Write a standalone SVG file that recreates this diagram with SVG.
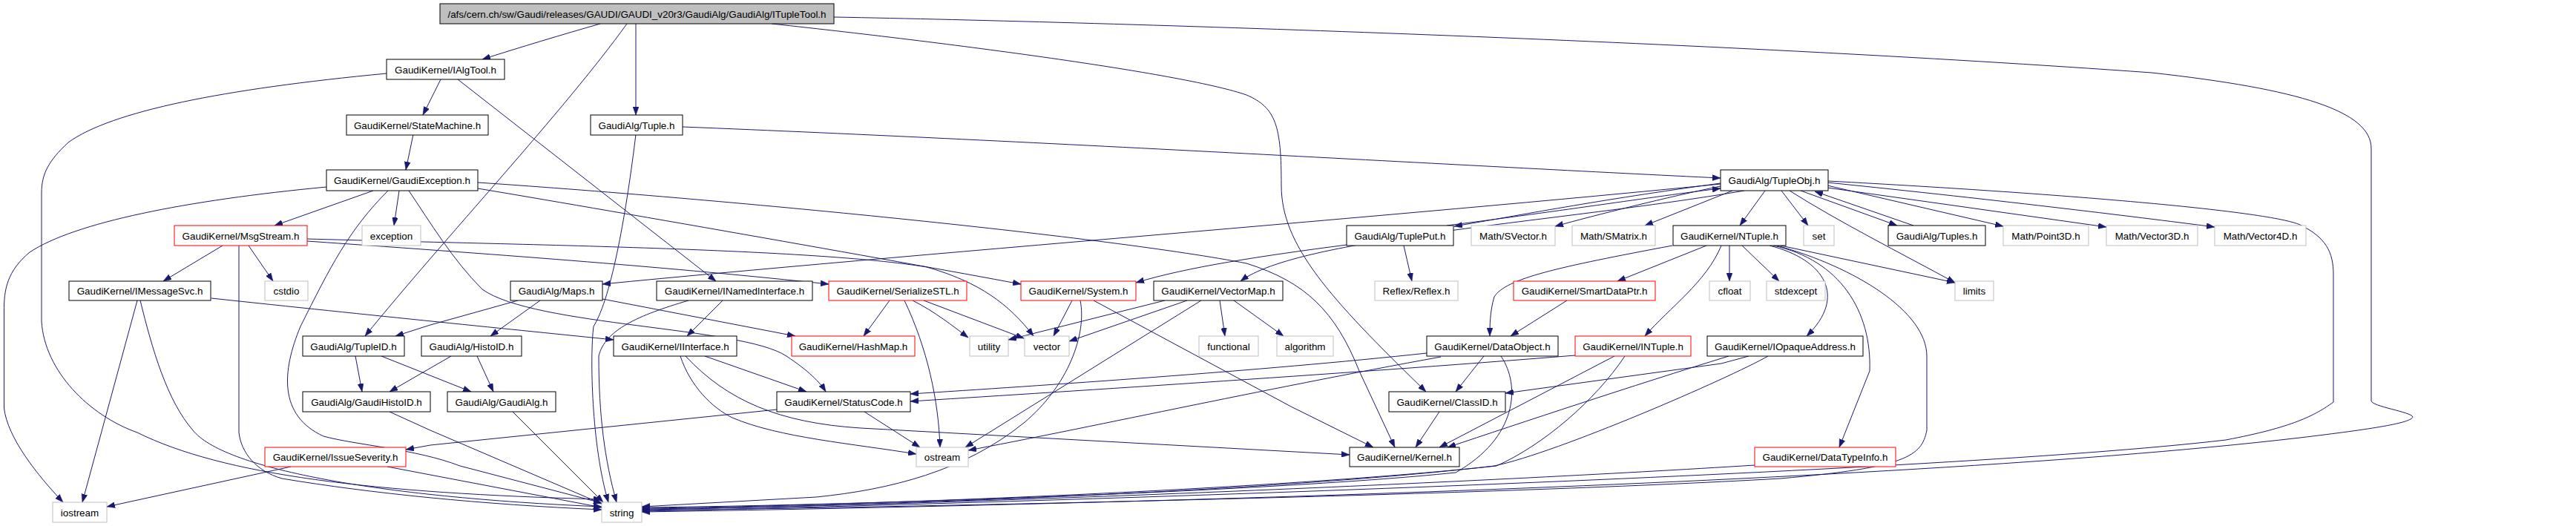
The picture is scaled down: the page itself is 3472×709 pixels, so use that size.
<svg xmlns="http://www.w3.org/2000/svg" width="3472" height="709" viewBox="0 0 3472 709">
<defs>
<marker id="a" markerUnits="userSpaceOnUse" markerWidth="11" markerHeight="8" refX="11" refY="4" orient="auto">
<path d="M0,0 L11,4 L0,8 z" fill="#191970" stroke="#191970" stroke-width="0.5"/>
</marker>
</defs>
<style>
rect{fill:#fff;stroke:#000;stroke-width:1}
.r rect{stroke:#f00}
.g rect{stroke:#bfbfbf}
.root rect{fill:#bfbfbf}
text{font-family:"Liberation Sans",Arial,sans-serif;font-size:13.4px;fill:#000;text-anchor:middle}
#edges path{fill:none;stroke:#191970;stroke-width:1;marker-end:url(#a)}
</style>
<rect x="0" y="0" width="3472" height="709" style="fill:#fff;stroke:none"/>
<g id="edges">
<path d="M809,32 C760,46 700,64 650,80"/>
<path d="M845,32 C760,150 600,320 492,453"/>
<path d="M857,32 L857,155"/>
<path d="M1040,32 C1300,60 1600,100 1680,128 C1720,145 1727,170 1727,250 C1727,330 1790,400 1922,528"/>
<path d="M1124,23 C1500,30 2300,55 2900,98 C3100,120 3196,150 3196,200 L3196,540 C3196,548 3250,555 3252,562 C3250,570 3200,578 3100,590 C2500,660 1200,685 865,690"/>
<path d="M2464,244 C2800,262 3060,285 3100,303 C3135,320 3145,340 3145,370 L3145,542 C3120,560 3090,576 3000,593 C2600,640 1300,680 865,689"/>
<path d="M2395,331 C2500,360 2597,420 2597,480 L2597,580 C2590,615 2570,630 2400,645 C2000,668 1200,684 865,688"/>
<path d="M2365,627 C2000,650 1300,680 865,687"/>
<path d="M2383,480 C2330,510 2100,610 2014,628 C1700,665 1100,684 865,686"/>
<path d="M2190,480 C2150,540 2080,600 2017,628 C1700,662 1100,683 865,685"/>
<path d="M2023,480 C2050,520 2045,590 1962,637 C1700,664 1100,682 865,684"/>
<path d="M1456,405 C1465,450 1440,520 1380,570 C1300,635 1200,660 1100,670 L865,683"/>
<path d="M521,99 C300,120 150,150 92,192 C65,217 56,235 56,260 L56,433 C60,500 120,560 185,583 C300,640 500,665 811,673"/>
<path d="M523,257 C470,310 445,360 405,440 C380,500 375,560 436,588 C480,600 560,605 620,628 L811,678"/>
<path d="M525,555 L580,580 L811,679"/>
<path d="M691,555 L813,677"/>
<path d="M189,405 C205,470 225,540 260,580 C300,630 500,670 811,683"/>
<path d="M322,331 L322,583 C325,610 345,635 380,645 C500,665 650,680 811,687"/>
<path d="M522,629 L811,684"/>
<path d="M857,181 C845,280 825,400 800,440 C795,480 797,600 820,677"/>
<path d="M928,405 C860,425 815,445 807,480 C807,560 815,620 831,677"/>
<path d="M594,107 L570,155"/>
<path d="M617,107 L965,379"/>
<path d="M557,181 L547,229"/>
<path d="M440,252 C250,270 100,300 40,340 C10,365 5,390 5.5,420 L5.5,550 C10,590 50,640 85,677"/>
<path d="M503,257 L370,304"/>
<path d="M538,257 L531,304"/>
<path d="M551,257 C580,300 610,350 650,390 C720,440 1000,440 1060,480 C1090,500 1105,515 1113,528"/>
<path d="M644,254 C800,280 1200,350 1376,383"/>
<path d="M644,246 C1000,270 1500,320 1680,355 C1760,380 1800,420 1832,500 L1880,603"/>
<path d="M300,331 L220,379"/>
<path d="M335,331 L368,379"/>
<path d="M414,325 C700,345 900,360 1117,383"/>
<path d="M414,322 C700,330 1100,335 1249,360 C1320,380 1360,410 1393,453"/>
<path d="M185,405 L111,677"/>
<path d="M285,402 C500,425 700,445 827,458"/>
<path d="M920,171 C1400,190 2000,225 2319,240"/>
<path d="M2319,247 C2150,270 2050,290 1960,305"/>
<path d="M1950,304 C2100,285 2250,262 2319,254"/>
<path d="M2319,251 C2250,265 2150,290 2096,305"/>
<path d="M2335,257 L2217,304"/>
<path d="M2379,257 L2345,304"/>
<path d="M2401,257 L2437,304"/>
<path d="M2427,257 L2557,304"/>
<path d="M2579,304 L2446,258"/>
<path d="M2463,250 L2700,305"/>
<path d="M2463,253 L2839,306"/>
<path d="M2463,246 C2700,270 2900,295 2985,306"/>
<path d="M2412,257 C2480,300 2560,340 2635,381"/>
<path d="M2351,257 C2100,300 1750,320 1672,379"/>
<path d="M2319,248 C1900,290 1200,345 812,383"/>
<path d="M1815,330 C1700,345 1600,360 1531,381"/>
<path d="M1892,331 L1903,379"/>
<path d="M2254,331 C2100,360 2030,375 2014,400 C2008,420 2008,440 2008,453"/>
<path d="M2331,331 L2331,379"/>
<path d="M2348,331 L2398,379"/>
<path d="M2300,331 L2180,379"/>
<path d="M2320,331 C2300,380 2250,415 2217,453"/>
<path d="M2385,331 C2460,350 2490,400 2435,453"/>
<path d="M2390,331 C2480,350 2523,420 2520,500 L2479,603"/>
<path d="M2400,331 L2635,381"/>
<path d="M698,405 L580,438 L533,453"/>
<path d="M728,405 L661,453"/>
<path d="M812,403 L1072,453"/>
<path d="M2112,405 L2036,453"/>
<path d="M974,405 L926,453"/>
<path d="M950,480 L1087,528"/>
<path d="M924,480 C980,540 1050,570 1160,577 L1819,613"/>
<path d="M917,480 C930,520 960,550 987,563 C1050,590 1150,598 1235,612"/>
<path d="M608,480 L525,528"/>
<path d="M643,480 L665,528"/>
<path d="M479,480 L488,528"/>
<path d="M514,480 L635,528"/>
<path d="M1199,405 L1164,453"/>
<path d="M1230,405 C1260,420 1285,440 1305,455"/>
<path d="M1245,405 L1380,456"/>
<path d="M1219,405 C1250,470 1265,540 1267,603"/>
<path d="M1445,405 L1420,453"/>
<path d="M1474,405 L1740,548 L1851,603"/>
<path d="M1570,405 L1359,458"/>
<path d="M1600,405 L1441,460"/>
<path d="M1619,405 L1301,603"/>
<path d="M1644,405 L1651,453"/>
<path d="M1663,405 L1730,453"/>
<path d="M2000,480 L1962,528"/>
<path d="M1923,476 C1700,500 1400,520 1227,531"/>
<path d="M2123,479 C1800,505 1400,530 1227,541"/>
<path d="M1942,481 C1700,525 1450,580 1305,607"/>
<path d="M2176,480 L1940,603"/>
<path d="M2357,480 L2320,490 L2029,530"/>
<path d="M2330,480 C2200,520 2050,570 1951,603"/>
<path d="M1940,555 L1908,603"/>
<path d="M1165,555 L1240,603"/>
<path d="M1047,552 L580,600 L547,606"/>
<path d="M392,629 L144,683"/>
</g>
<g id="root" class="root"><rect x="593" y="5" width="531" height="27"/><text x="858.5" y="24">/afs/cern.ch/sw/Gaudi/releases/GAUDI/GAUDI_v20r3/GaudiAlg/GaudiAlg/ITupleTool.h</text></g>
<g id="IAlgTool"><rect x="521" y="80" width="159" height="27"/><text x="600.5" y="99">GaudiKernel/IAlgTool.h</text></g>
<g id="StateMachine"><rect x="467" y="155" width="191" height="27"/><text x="562.5" y="174">GaudiKernel/StateMachine.h</text></g>
<g id="Tuple"><rect x="796" y="155" width="124" height="27"/><text x="858" y="174">GaudiAlg/Tuple.h</text></g>
<g id="GaudiException"><rect x="440" y="229" width="204" height="28"/><text x="542" y="248">GaudiKernel/GaudiException.h</text></g>
<g id="TupleObj"><rect x="2319" y="229" width="145" height="28"/><text x="2391.5" y="248">GaudiAlg/TupleObj.h</text></g>
<g id="MsgStream" class="r"><rect x="235" y="304" width="179" height="27"/><text x="324.5" y="323">GaudiKernel/MsgStream.h</text></g>
<g id="exception" class="g"><rect x="488" y="304" width="79" height="27"/><text x="527.5" y="323">exception</text></g>
<g id="TuplePut"><rect x="1815" y="304" width="144" height="27"/><text x="1887" y="323">GaudiAlg/TuplePut.h</text></g>
<g id="SVector" class="g"><rect x="1983" y="304" width="113" height="27"/><text x="2039.5" y="323">Math/SVector.h</text></g>
<g id="SMatrix" class="g"><rect x="2119" y="304" width="112" height="27"/><text x="2175" y="323">Math/SMatrix.h</text></g>
<g id="NTuple"><rect x="2255" y="304" width="152" height="27"/><text x="2331" y="323">GaudiKernel/NTuple.h</text></g>
<g id="set" class="g"><rect x="2431" y="304" width="41" height="27"/><text x="2451.5" y="323">set</text></g>
<g id="Tuples"><rect x="2545" y="304" width="131" height="27"/><text x="2610.5" y="323">GaudiAlg/Tuples.h</text></g>
<g id="Point3D" class="g"><rect x="2700" y="304" width="115" height="27"/><text x="2757.5" y="323">Math/Point3D.h</text></g>
<g id="Vector3D" class="g"><rect x="2839" y="304" width="123" height="27"/><text x="2900.5" y="323">Math/Vector3D.h</text></g>
<g id="Vector4D" class="g"><rect x="2985" y="304" width="123" height="27"/><text x="3046.5" y="323">Math/Vector4D.h</text></g>
<g id="IMessageSvc"><rect x="93" y="379" width="191" height="26"/><text x="188.5" y="397">GaudiKernel/IMessageSvc.h</text></g>
<g id="cstdio" class="g"><rect x="357" y="379" width="58" height="26"/><text x="386" y="397">cstdio</text></g>
<g id="Maps"><rect x="688" y="379" width="124" height="26"/><text x="750" y="397">GaudiAlg/Maps.h</text></g>
<g id="INamedInterface"><rect x="885" y="379" width="210" height="26"/><text x="990" y="397">GaudiKernel/INamedInterface.h</text></g>
<g id="SerializeSTL" class="r"><rect x="1117" y="379" width="186" height="26"/><text x="1210" y="397">GaudiKernel/SerializeSTL.h</text></g>
<g id="System" class="r"><rect x="1376" y="379" width="155" height="26"/><text x="1453.5" y="397">GaudiKernel/System.h</text></g>
<g id="VectorMap"><rect x="1555" y="379" width="174" height="26"/><text x="1642" y="397">GaudiKernel/VectorMap.h</text></g>
<g id="Reflex" class="g"><rect x="1853" y="379" width="112" height="26"/><text x="1909" y="397">Reflex/Reflex.h</text></g>
<g id="SmartDataPtr" class="r"><rect x="2040" y="379" width="191" height="26"/><text x="2135.5" y="397">GaudiKernel/SmartDataPtr.h</text></g>
<g id="cfloat" class="g"><rect x="2304" y="379" width="55" height="26"/><text x="2331.5" y="397">cfloat</text></g>
<g id="stdexcept" class="g"><rect x="2381" y="379" width="79" height="26"/><text x="2420.5" y="397">stdexcept</text></g>
<g id="limits" class="g"><rect x="2635" y="379" width="52" height="26"/><text x="2661" y="397">limits</text></g>
<g id="TupleID"><rect x="408" y="453" width="137" height="27"/><text x="476.5" y="472">GaudiAlg/TupleID.h</text></g>
<g id="HistoID"><rect x="568" y="453" width="135" height="27"/><text x="635.5" y="472">GaudiAlg/HistoID.h</text></g>
<g id="IInterface"><rect x="827" y="453" width="166" height="27"/><text x="910" y="472">GaudiKernel/IInterface.h</text></g>
<g id="HashMap" class="r"><rect x="1067" y="453" width="166" height="27"/><text x="1150" y="472">GaudiKernel/HashMap.h</text></g>
<g id="utility" class="g"><rect x="1307" y="453" width="52" height="27"/><text x="1333" y="472">utility</text></g>
<g id="vector" class="g"><rect x="1381" y="453" width="60" height="27"/><text x="1411" y="472">vector</text></g>
<g id="functional" class="g"><rect x="1616" y="453" width="80" height="27"/><text x="1656" y="472">functional</text></g>
<g id="algorithm" class="g"><rect x="1721" y="453" width="76" height="27"/><text x="1759" y="472">algorithm</text></g>
<g id="DataObject"><rect x="1923" y="453" width="177" height="27"/><text x="2011.5" y="472">GaudiKernel/DataObject.h</text></g>
<g id="INTuple" class="r"><rect x="2123" y="453" width="156" height="27"/><text x="2201" y="472">GaudiKernel/INTuple.h</text></g>
<g id="IOpaqueAddress"><rect x="2301" y="453" width="210" height="27"/><text x="2406" y="472">GaudiKernel/IOpaqueAddress.h</text></g>
<g id="GaudiHistoID"><rect x="408" y="528" width="172" height="27"/><text x="494" y="547">GaudiAlg/GaudiHistoID.h</text></g>
<g id="GaudiAlg"><rect x="603" y="528" width="146" height="27"/><text x="676" y="547">GaudiAlg/GaudiAlg.h</text></g>
<g id="StatusCode"><rect x="1047" y="528" width="180" height="27"/><text x="1137" y="547">GaudiKernel/StatusCode.h</text></g>
<g id="ClassID"><rect x="1872" y="528" width="157" height="27"/><text x="1950.5" y="547">GaudiKernel/ClassID.h</text></g>
<g id="IssueSeverity" class="r"><rect x="357" y="603" width="190" height="26"/><text x="452" y="621">GaudiKernel/IssueSeverity.h</text></g>
<g id="ostream" class="g"><rect x="1235" y="603" width="70" height="26"/><text x="1270" y="621">ostream</text></g>
<g id="Kernel"><rect x="1819" y="603" width="148" height="26"/><text x="1893" y="621">GaudiKernel/Kernel.h</text></g>
<g id="DataTypeInfo" class="r"><rect x="2365" y="603" width="190" height="26"/><text x="2460" y="621">GaudiKernel/DataTypeInfo.h</text></g>
<g id="iostream" class="g"><rect x="71" y="677" width="73" height="27"/><text x="107.5" y="696">iostream</text></g>
<g id="string" class="g"><rect x="811" y="677" width="54" height="27"/><text x="838" y="696">string</text></g>
</svg>
